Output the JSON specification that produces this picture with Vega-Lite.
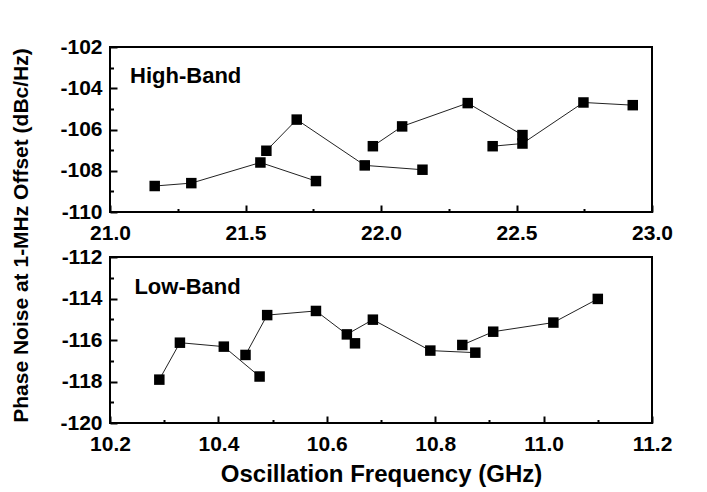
{
  "$schema": "https://vega.github.io/schema/vega-lite/v6.json",
  "padding": {"left": 9, "top": 35, "right": 5, "bottom": 5},
  "background": "white",
  "datasets": {
    "high": [
      {"f": 21.165, "pn": -108.74, "s": "A"},
      {"f": 21.30, "pn": -108.6, "s": "A"},
      {"f": 21.555, "pn": -107.6, "s": "A"},
      {"f": 21.76, "pn": -108.5, "s": "A"},
      {"f": 21.577, "pn": -107.03, "s": "B"},
      {"f": 21.689, "pn": -105.52, "s": "B"},
      {"f": 21.94, "pn": -107.74, "s": "B"},
      {"f": 22.153, "pn": -107.95, "s": "B"},
      {"f": 21.97, "pn": -106.81, "s": "C"},
      {"f": 22.078, "pn": -105.85, "s": "C"},
      {"f": 22.32, "pn": -104.72, "s": "C"},
      {"f": 22.522, "pn": -106.27, "s": "C"},
      {"f": 22.412, "pn": -106.81, "s": "D"},
      {"f": 22.522, "pn": -106.68, "s": "D"},
      {"f": 22.747, "pn": -104.69, "s": "D"},
      {"f": 22.929, "pn": -104.82, "s": "D"}
    ],
    "low": [
      {"f": 10.291, "pn": -117.91, "s": "A"},
      {"f": 10.329, "pn": -116.13, "s": "A"},
      {"f": 10.41, "pn": -116.32, "s": "A"},
      {"f": 10.476, "pn": -117.76, "s": "A"},
      {"f": 10.45, "pn": -116.72, "s": "B"},
      {"f": 10.49, "pn": -114.8, "s": "B"},
      {"f": 10.58, "pn": -114.6, "s": "B"},
      {"f": 10.637, "pn": -115.73, "s": "B"},
      {"f": 10.685, "pn": -115.02, "s": "B"},
      {"f": 10.791, "pn": -116.51, "s": "B"},
      {"f": 10.874, "pn": -116.61, "s": "B"},
      {"f": 10.652, "pn": -116.16, "s": "C"},
      {"f": 10.85, "pn": -116.24, "s": "D"},
      {"f": 10.907, "pn": -115.6, "s": "D"},
      {"f": 11.018, "pn": -115.16, "s": "D"},
      {"f": 11.1, "pn": -114.02, "s": "D"}
    ],
    "highLabel": [{"f": 21.074, "pn": -103.42, "t": "High-Band"}],
    "lowLabel": [{"f": 10.245, "pn": -113.46, "t": "Low-Band"}]
  },
  "bounds": "flush",
  "spacing": 45,
  "vconcat": [
    {
      "width": 542,
      "height": 165,
      "encoding": {
        "x": {
          "field": "f", "type": "quantitative",
          "scale": {"domain": [21, 23], "nice": false, "zero": false},
          "axis": {
            "title": null,
            "offset": -7,
            "values": [21, 21.25, 21.5, 21.75, 22, 22.25, 22.5, 22.75, 23],
            "labelExpr": "abs(datum.value*2-round(datum.value*2))<0.01 ? format(datum.value,'.1f') : ''",
            "tickDash": {"condition": {"test": "abs(datum.value*2-round(datum.value*2))<0.01", "value": [7, 0]}, "value": [0, 3.5, 3.5]}
          }
        },
        "y": {
          "field": "pn", "type": "quantitative",
          "scale": {"domain": [-110, -102], "nice": false, "zero": false},
          "axis": {
            "title": "Phase Noise at 1-MHz Offset (dBc/Hz)",
            "titleY": 188,
            "offset": -7,
            "values": [-110, -109, -108, -107, -106, -105, -104, -103, -102],
            "labelExpr": "abs(datum.value % 2) < 0.01 ? toString(datum.value) : ''",
            "tickDash": {"condition": {"test": "abs(datum.value % 2) < 0.01", "value": [7, 0]}, "value": [0, 3.5, 3.5]}
          }
        }
      },
      "layer": [
        {"data": {"name": "high"}, "mark": {"type": "line", "color": "#222", "strokeWidth": 1}, "encoding": {"detail": {"field": "s"}}},
        {"data": {"name": "high"}, "mark": {"type": "point", "shape": "square", "filled": true, "color": "black", "opacity": 1, "size": 110}},
        {"data": {"name": "highLabel"}, "mark": {"type": "text", "align": "left", "baseline": "middle", "font": "Liberation Sans", "fontWeight": "bold", "fontSize": 22, "color": "black"}, "encoding": {"text": {"field": "t"}}}
      ]
    },
    {
      "width": 542,
      "height": 166,
      "encoding": {
        "x": {
          "field": "f", "type": "quantitative",
          "scale": {"domain": [10.2, 11.2], "nice": false, "zero": false},
          "axis": {
            "title": "Oscillation Frequency (GHz)",
            "offset": -7,
            "values": [10.2, 10.3, 10.4, 10.5, 10.6, 10.7, 10.8, 10.9, 11.0, 11.1, 11.2],
            "labelExpr": "abs(datum.value*5-round(datum.value*5))<0.01 ? format(datum.value,'.1f') : ''",
            "tickDash": {"condition": {"test": "abs(datum.value*5-round(datum.value*5))<0.01", "value": [7, 0]}, "value": [0, 3.5, 3.5]}
          }
        },
        "y": {
          "field": "pn", "type": "quantitative",
          "scale": {"domain": [-120, -112], "nice": false, "zero": false},
          "axis": {
            "title": null,
            "offset": -7,
            "values": [-120, -119, -118, -117, -116, -115, -114, -113, -112],
            "labelExpr": "abs(datum.value % 2) < 0.01 ? toString(datum.value) : ''",
            "tickDash": {"condition": {"test": "abs(datum.value % 2) < 0.01", "value": [7, 0]}, "value": [0, 3.5, 3.5]}
          }
        }
      },
      "layer": [
        {"data": {"name": "low"}, "mark": {"type": "line", "color": "#222", "strokeWidth": 1}, "encoding": {"detail": {"field": "s"}}},
        {"data": {"name": "low"}, "mark": {"type": "point", "shape": "square", "filled": true, "color": "black", "opacity": 1, "size": 110}},
        {"data": {"name": "lowLabel"}, "mark": {"type": "text", "align": "left", "baseline": "middle", "font": "Liberation Sans", "fontWeight": "bold", "fontSize": 22, "color": "black"}, "encoding": {"text": {"field": "t"}}}
      ]
    }
  ],
  "config": {
    "view": {"stroke": "black", "strokeWidth": 2},
    "axis": {
      "domain": false,
      "grid": false,
      "ticks": true,
      "zindex": 2,
      "labelFlush": false,
      "labelFont": "Liberation Sans",
      "labelFontWeight": "bold",
      "labelFontSize": 21,
      "labelColor": "black",
      "labelOverlap": false,
      "labelPadding": 8,
      "tickSize": 7,
      "tickColor": "#000000",
      "tickOpacity": 1,
      "tickWidth": 2,
      "titleFont": "Liberation Sans",
      "titleFontWeight": "bold",
      "titleFontSize": 24,
      "titleColor": "black"
    },
    "axisY": {"titleFontSize": 21, "titlePadding": 28},
    "axisX": {"titlePadding": 8, "labelPadding": 10}
  }
}
